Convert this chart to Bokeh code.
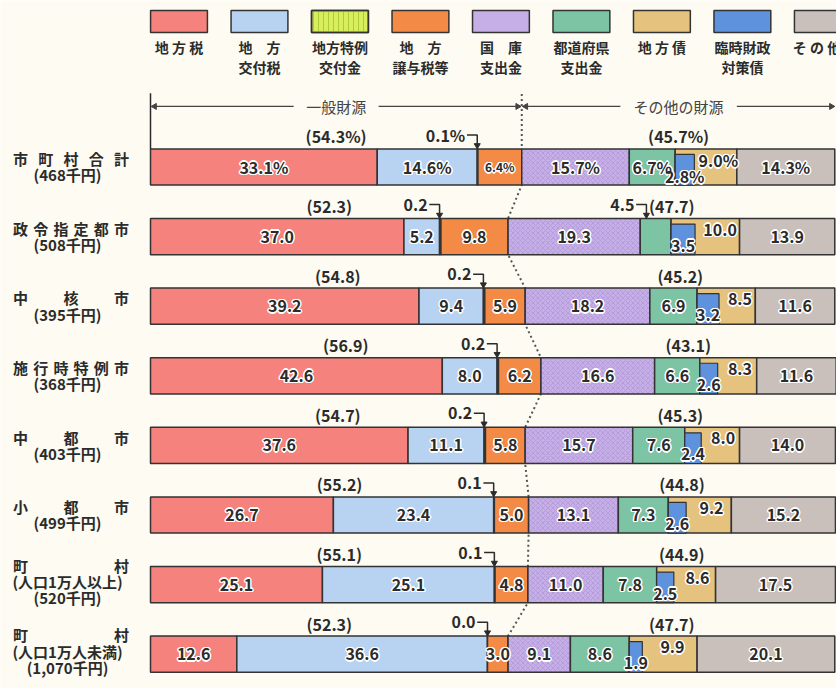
from bokeh.plotting import figure
from bokeh.models import Range1d, ColumnDataSource
from bokeh.core.properties import value
from bokeh.embed import file_html
from bokeh.resources import INLINE
import numpy as np

# ---------------- data ----------------
row_line1 = ["市町村合計", "政令指定都市", "中核市", "施行時特例市", "中都市", "小都市", "町村", "町村"]
row_line2 = ["(468千円)", "(508千円)", "(395千円)", "(368千円)", "(403千円)", "(499千円)", "(人口1万人以上)", "(人口1万人未満)"]
row_line3 = ["", "", "", "", "", "", "(520千円)", "(1,070千円)"]

local_tax = [33.1, 37.0, 39.2, 42.6, 37.6, 26.7, 25.1, 12.6]
alloc_tax = [14.6, 5.2, 9.4, 8.0, 11.1, 23.4, 25.1, 36.6]
special_grant = [0.1, 0.2, 0.2, 0.2, 0.2, 0.1, 0.1, 0.0]
transfer_tax = [6.4, 9.8, 5.9, 6.2, 5.8, 5.0, 4.8, 3.0]
treasury = [15.7, 19.3, 18.2, 16.6, 15.7, 13.1, 11.0, 9.1]
pref_grant = [6.7, 4.5, 6.9, 6.6, 7.6, 7.3, 7.8, 8.6]
local_bond = [9.0, 10.0, 8.5, 8.3, 8.0, 9.2, 8.6, 9.9]
temp_bond = [2.8, 3.5, 3.2, 2.6, 2.4, 2.6, 2.5, 1.9]   # part of local_bond
other = [14.3, 13.9, 11.6, 11.6, 14.0, 15.2, 17.5, 20.1]
general_total = [54.3, 52.3, 54.8, 56.9, 54.7, 55.2, 55.1, 52.3]
other_total = [45.7, 47.7, 45.2, 43.1, 45.3, 44.8, 44.9, 47.7]

legend_line1 = ["地 方 税", "地　方", "地方特例", "地　方", "国　庫", "都道府県", "地 方 債", "臨時財政", "そ の 他"]
legend_line2 = ["", "交付税", "交付金", "譲与税等", "支出金", "支出金", "", "対策債", ""]
header_general = "一般財源"
header_other = "その他の財源"

# ---------------- style ----------------
BG = "#fdfbf2"
TXT = "#2b2b2b"
EDGE = "#333333"
FONT = value("Noto Sans CJK JP")
colors = ["#f5827d", "#b8d2f2", "#d9ee5d", "#f38b47", "#c6aee6", "#7cc4a4", "#e6c27f", "#5f92dc", "#c9c0bc"]
hatches = ["blank", "blank", "vertical_line", "blank", "diagonal_cross", "blank", "blank", "blank", "blank"]
hatch_cols = [None, None, "#a3c42c", None, "#a88ed2", None, None, None, None]

n = len(local_tax)
rows = np.arange(n)
BH = 0.52

p = figure(width=836, height=688, output_backend="svg", toolbar_location=None,
           x_range=Range1d(-21.9, 100.15), y_range=Range1d(7.493, -2.392),
           min_border=0, background_fill_color=BG, border_fill_color=BG)
p.axis.visible = False
p.grid.visible = False
p.outline_line_color = None


def add_text(x, y, text, size="15px", align="center", bold=True, color=TXT, halo=False):
    src = ColumnDataSource(dict(x=list(x), y=list(y), t=list(text),
                                s=size if isinstance(size, list) else [size] * len(x)))
    style = "bold" if bold else "normal"
    if halo:
        for ox, oy in [(-1, -1), (1, -1), (-1, 1), (1, 1), (0, 1.5), (0, -1.5), (1.5, 0), (-1.5, 0)]:
            p.text(x="x", y="y", text="t", source=src, text_font=FONT, text_font_size="s",
                   text_font_style=style, text_align=align, text_baseline="middle",
                   text_color="white", x_offset=ox, y_offset=oy)
    p.text(x="x", y="y", text="t", source=src, text_font=FONT, text_font_size="s",
           text_font_style=style, text_align=align, text_baseline="middle", text_color=color)


# cumulative positions
seg_main = [local_tax, alloc_tax, special_grant, transfer_tax, treasury, pref_grant, local_bond, other]
seg_cols = [0, 1, 2, 3, 4, 5, 6, 8]
lefts = []
acc = np.zeros(n)
for s in seg_main:
    lefts.append(acc.copy())
    acc = acc + np.array(s)
gen_edge = lefts[4]  # boundary general / other

# dotted divider (drawn under bars)
dx = [gen_edge[0], gen_edge[0]]
dy = [-1.05, 0 - BH / 2]
for i in range(n):
    dx += [gen_edge[i], gen_edge[i]]
    dy += [i - BH / 2, i + BH / 2]
p.line(dx, dy, line_color="#555555", line_width=2, line_dash="2 3")

# bars
for k, s in enumerate(seg_main):
    c = seg_cols[k]
    left = lefts[k]
    right = left + np.array(s)
    kw = {}
    if hatches[c] != "blank":
        kw = dict(hatch_pattern=hatches[c], hatch_color=hatch_cols[c], hatch_alpha=0.55,
                  hatch_scale=5, hatch_weight=1)
    p.hbar(y=rows, left=left, right=right, height=BH, fill_color=colors[c],
           line_color=EDGE, line_width=1.5, **kw)

# temporary bond overlay at left of local bond
tb_left = lefts[6]
tb_right = tb_left + np.array(temp_bond)
p.hbar(y=rows + 0.04, left=tb_left, right=tb_right, height=BH - 0.08, fill_color=colors[7],
       line_color=EDGE, line_width=1.2)

# ---------------- in-bar labels ----------------
def fmt(v, i):
    return f"{v:.1f}%" if i == 0 else f"{v:.1f}"

lx, ly, lt, lsz = [], [], [], []
for i in range(n):
    for k in [0, 1, 3, 4, 5, 7]:
        v = seg_main[k][i]
        if k == 5 and v < 5:
            continue
        lx.append(lefts[k][i] + v / 2)
        ly.append(i)
        lt.append(fmt(v, i))
        lsz.append("12px" if (i == 0 and v < 6.5) else "16px")
    lx.append((tb_left[i] + tb_right[i]) / 2); ly.append(i + 0.13); lt.append(fmt(temp_bond[i], i)); lsz.append("16px")
    bond_end = lefts[6][i] + local_bond[i]
    lx.append((tb_right[i] + bond_end) / 2 + 0.4); ly.append(i - 0.1); lt.append(fmt(local_bond[i], i)); lsz.append("16px")

add_text(lx, ly, lt, size=lsz, halo=True)

# ---------------- group totals ----------------
gx = [gen_edge[i] / 2 for i in range(n)]
ox = [(gen_edge[i] + 100) / 2 for i in range(n)]
gt = [f"({v:.1f}%)" if i == 0 else f"({v:.1f})" for i, v in enumerate(general_total)]
ot = [f"({v:.1f}%)" if i == 0 else f"({v:.1f})" for i, v in enumerate(other_total)]
add_text(gx + ox, list(rows - 0.44) * 2, gt + ot, size="16px")

# ---------------- callouts with bent arrows ----------------
cx, cy, ct, lxs, lys, mx, my = [], [], [], [], [], [], []
for i in range(n):
    xb = lefts[2][i]
    yl = i - 0.46
    cx.append(xb - 1.75); cy.append(yl); ct.append(f"{special_grant[i]:.1f}%" if i == 0 else f"{special_grant[i]:.1f}")
    lxs.append([xb - 1.5, xb, xb]); lys.append([yl, yl, i - BH / 2 - 0.06])
    mx.append(xb); my.append(i - BH / 2 - 0.05)
    if pref_grant[i] < 5:
        xb2 = lefts[5][i] + pref_grant[i] * 0.2
        cx.append(xb2 - 1.75); cy.append(yl); ct.append(f"{pref_grant[i]:.1f}")
        lxs.append([xb2 - 1.5, xb2, xb2]); lys.append([yl, yl, i - BH / 2 - 0.06])
        mx.append(xb2); my.append(i - BH / 2 - 0.05)
p.multi_line(lxs, lys, line_color=TXT, line_width=1.5)
p.scatter(mx, my, marker="inverted_triangle", size=6, fill_color=TXT, line_color=TXT)
add_text(cx, cy, ct, align="right", size="16px")

# ---------------- header ----------------
HY = -0.87
g_mid = gen_edge[0] / 2
o_mid = (gen_edge[0] + 100) / 2
p.line([0, 0], [-1.06, -BH / 2], line_color=TXT, line_width=1.5)
p.segment(x0=[0.3, g_mid + 6.2, gen_edge[0] + 0.4, o_mid + 8.5],
          y0=[HY] * 4,
          x1=[g_mid - 6.2, gen_edge[0] - 0.4, o_mid - 8.5, 99.7],
          y1=[HY] * 4, line_color="#444444", line_width=1.2)
p.scatter([0.6, gen_edge[0] - 0.6, gen_edge[0] + 0.6, 99.4], [HY] * 4,
          marker="triangle", angle=[np.pi / 2, -np.pi / 2, np.pi / 2, -np.pi / 2],
          size=6, fill_color="#444444", line_color="#444444")
add_text([g_mid, o_mid], [HY, HY], [header_general, header_other], size="15px", bold=False,
         color="#444444")

# ---------------- legend ----------------
LX0, LDX, LW = 4.16, 11.75, 8.3
lgx = [LX0 + LDX * j for j in range(len(legend_line1))]
p.rect(x=lgx, y=[-2.09] * len(lgx), width=LW, height=0.316, fill_color=colors,
       line_color=EDGE, line_width=1.5)
p.rect(x=[lgx[2]], y=[-2.09], width=LW, height=0.316, fill_color=None, line_color=EDGE,
       line_width=1.5, hatch_pattern="vertical_line", hatch_color=hatch_cols[2], hatch_scale=5,
       hatch_alpha=0.8)
tx = [min(v, 97.3) for v in lgx]
add_text(tx, [-1.717] * len(tx), legend_line1, size="14px")
add_text(tx, [-1.43] * len(tx), legend_line2, size="14px")

# ---------------- row labels ----------------
rx, ry, rt = [], [], []
for i in range(n):
    chars = list(row_line1[i])
    three = row_line3[i] != ""
    y1 = i - (0.28 if three else 0.12)
    xs = np.linspace(-18.98, -4.23, len(chars))
    for c, xx in zip(chars, xs):
        rx.append(xx); ry.append(y1); rt.append(c)
    rx.append(-12.12); ry.append(i + (-0.043 if three else 0.115)); rt.append(row_line2[i])
    if three:
        rx.append(-12.12); ry.append(i + 0.187); rt.append(row_line3[i])
add_text(rx, ry, rt, size="15px")

open("out.html", "w").write(file_html(p, INLINE))
